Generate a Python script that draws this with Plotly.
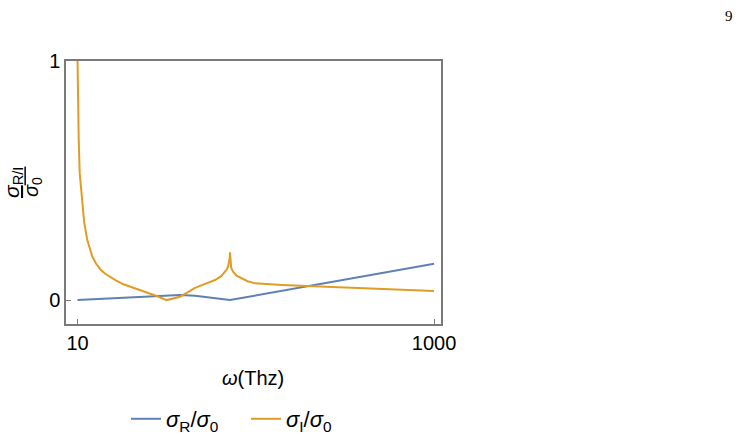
import plotly.graph_objects as go

# ---- data ----
orange_omega = [9.98, 10.03, 10.08, 10.16, 10.29, 10.45, 10.64, 10.9, 11.35, 11.75,
                12.11, 12.7, 13.5, 14.3, 15.2, 16.5, 18.1, 20.0, 22.4, 25.0,
                27.8, 31.6, 34.0, 37.6, 41.0, 45.6, 52.0, 59.1, 64.0, 67.2,
                69.0, 70.2, 71.0, 71.5, 71.7, 71.9, 72.2, 72.8, 73.8, 74.8,
                78.0, 83.4, 90.0, 99.0, 110.0, 140.0, 194.0, 280.0, 400.0, 650.0,
                1000.0]
orange_vals = [1.05, 0.85, 0.75, 0.669, 0.531, 0.465, 0.389, 0.325, 0.251, 0.21,
               0.182, 0.153, 0.127, 0.11, 0.096, 0.081, 0.066, 0.055, 0.042, 0.030,
               0.017, 0.0, 0.006, 0.014, 0.03, 0.051, 0.068, 0.084, 0.1, 0.118,
               0.13, 0.146, 0.163, 0.18, 0.2, 0.17, 0.15, 0.135, 0.125, 0.118,
               0.102, 0.091, 0.079, 0.070, 0.067, 0.063, 0.0586, 0.054, 0.050, 0.044,
               0.038]

blue_omega = [10, 12, 13.4, 16, 20.5, 26, 31.6, 37.6, 45.6, 55, 63, 68, 71.7,
              99, 200, 400, 1000]
blue_vals = [0.0, 0.003, 0.005, 0.009, 0.014, 0.017, 0.019, 0.021, 0.018, 0.012,
             0.006, 0.0025, 0.0, 0.0186, 0.0591, 0.099, 0.1518]

x_ticks = [10, 1000]
x_ticklabels = ["10", "1000"]
y_ticks = [0, 1]
y_ticklabels = ["0", "1"]

BLUE = "#5E81B5"
ORANGE = "#E19C24"
AX = "#7a7a7a"
FONT = "Liberation Sans"

fig = go.Figure()
fig.add_trace(go.Scatter(x=blue_omega, y=blue_vals, mode="lines",
                         line=dict(color=BLUE, width=2),
                         name="<i>σ</i><sub>R</sub>/<i>σ</i><sub>0</sub>"))
fig.add_trace(go.Scatter(x=orange_omega, y=orange_vals, mode="lines",
                         line=dict(color=ORANGE, width=2),
                         name="<i>σ</i><sub>I</sub>/<i>σ</i><sub>0</sub>"))

fig.update_layout(
    width=746, height=434,
    margin=dict(l=66, r=305, t=61, b=110, autoexpand=False),
    paper_bgcolor="white", plot_bgcolor="white",
    font=dict(family=FONT, size=20, color="black"),
    showlegend=True,
    legend=dict(orientation="h", xref="container", yref="container",
                x=126 / 746, xanchor="left", y=(434 - 419) / 434, yanchor="middle",
                font=dict(size=22), bgcolor="rgba(0,0,0,0)",
                entrywidth=75, entrywidthmode="pixels"),
    xaxis=dict(type="log", range=[0.9355, 3.039], tickvals=x_ticks, ticktext=x_ticklabels,
               ticks="inside", ticklen=5, tickcolor=AX, tickwidth=1,
               showline=True, linecolor=AX, linewidth=1.5, mirror=True,
               showgrid=False, zeroline=False, tickfont=dict(size=20)),
    yaxis=dict(range=[-0.1, 1.0], tickvals=y_ticks, ticktext=y_ticklabels,
               ticks="inside", ticklen=5, tickcolor=AX, tickwidth=1,
               showline=True, linecolor=AX, linewidth=1.5, mirror=True,
               showgrid=False, zeroline=False, tickfont=dict(size=20)),
)

fig.add_annotation(text="<i>ω</i>(Thz)", xref="paper", yref="paper",
                   x=(253 - 66) / 375, y=-(378 - 324) / 263, xanchor="center", yanchor="middle",
                   showarrow=False, font=dict(size=20))
# y-axis title as a rotated fraction
fig.add_annotation(text="<u><i>σ</i><sub>R/I</sub></u>", xref="paper", yref="paper",
                   x=(13 - 66) / 375, y=1 - (183 - 61) / 263, xanchor="center", yanchor="middle",
                   textangle=-90, showarrow=False, font=dict(size=21))
fig.add_annotation(text="<i>σ</i><sub>0</sub>", xref="paper", yref="paper",
                   x=(32 - 66) / 375, y=1 - (187 - 61) / 263, xanchor="center", yanchor="middle",
                   textangle=-90, showarrow=False, font=dict(size=20))
# page number
fig.add_annotation(text="9", xref="paper", yref="paper",
                   x=(729 - 66) / 375, y=1 + (61 - 16) / 263,
                   xanchor="center", yanchor="middle", showarrow=False,
                   font=dict(family="Liberation Serif", size=15))

fig.write_html("out.html")
